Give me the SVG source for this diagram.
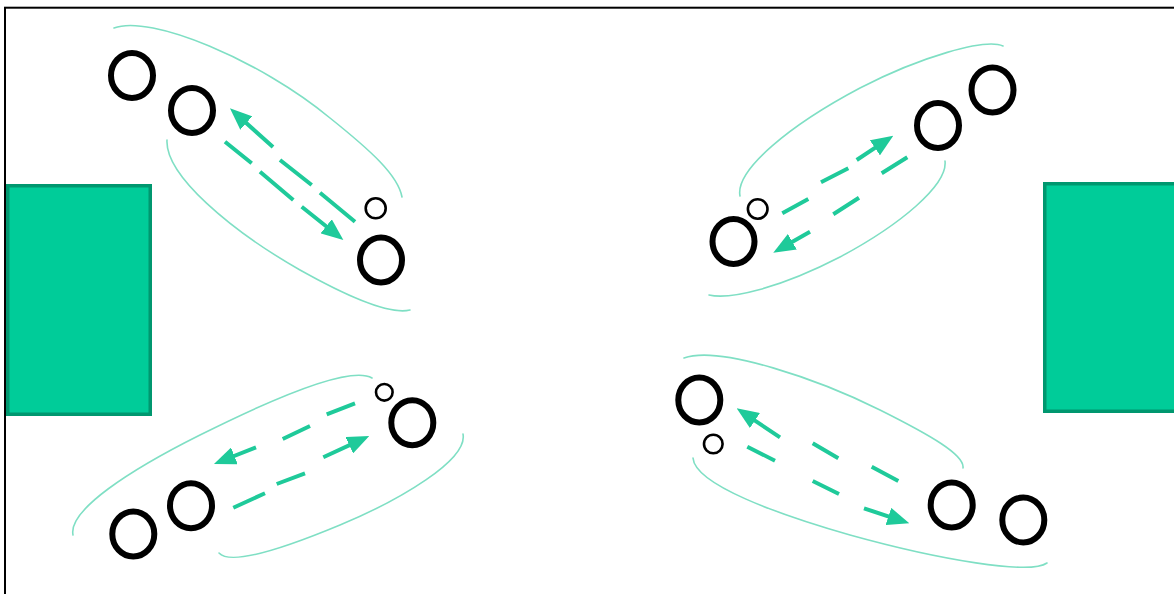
<svg xmlns="http://www.w3.org/2000/svg" width="1174" height="594" viewBox="0 0 1174 594">
  <style>
    .frame { fill: none; stroke: #000; stroke-width: 2; }
    .block { fill: #00CC99; stroke: #00976F; stroke-width: 3.5; }
    .ring { fill: none; stroke: #000; stroke-width: 6; }
    .dot { fill: none; stroke: #000; stroke-width: 2.6; }
    .zone { fill: none; stroke: #7FDFC4; stroke-width: 1.6; stroke-linecap: round; }
    .flow { fill: none; stroke: #1FCA9A; stroke-width: 4; marker-end: url(#head); }
  </style>
  <defs>
    <marker id="head" viewBox="0 0 22 18" refX="14" refY="9" markerWidth="22" markerHeight="18" markerUnits="userSpaceOnUse" orient="auto">
      <path d="M0,0 L22,9 L0,18 z" fill="#1FCA9A"/>
    </marker>
  </defs>

  <rect width="1174" height="594" fill="#fff"/>
  <rect class="frame" x="5" y="7.7" width="1200" height="620"/>

  <!-- side blocks -->
  <g id="block-left"><rect class="block" x="7.75" y="185.75" width="142.5" height="228.5"/></g>
  <g id="block-right"><rect class="block" x="1044.75" y="183.75" width="140" height="227.5"/></g>

  <!-- enclosing outlines -->
  <g id="zones">
    <path class="zone" d="M114,28 C150,14 260,60 330,118 C370,150 398,175 402,197"/>
    <path class="zone" d="M167,140 C165,175 230,230 300,270 C350,298 390,315 410,310"/>
    <path class="zone" d="M740,196 C735,170 790,125 860,88 C920,57 985,38 1003,46"/>
    <path class="zone" d="M945,161 C948,185 900,225 840,257 C780,288 730,300 709,295"/>
    <path class="zone" d="M73,535 C68,510 130,470 200,435 C270,400 350,365 372,378"/>
    <path class="zone" d="M463,434 C468,460 400,500 340,525 C280,550 230,565 219,553"/>
    <path class="zone" d="M684,358 C720,345 820,380 880,410 C930,435 965,455 963,468"/>
    <path class="zone" d="M693,458 C695,485 780,515 850,535 C940,560 1030,575 1047,563"/>
  </g>

  <!-- top-left cluster -->
  <g id="tl-a"><ellipse class="ring" cx="132" cy="75.5" rx="21" ry="22.5"/></g>
  <g id="tl-b"><ellipse class="ring" cx="192" cy="110.5" rx="21" ry="22.5"/></g>
  <g id="tl-s"><circle class="dot" cx="375.7" cy="208.3" r="10"/></g>
  <g id="tl-c"><ellipse class="ring" cx="381" cy="260" rx="21" ry="22.5"/></g>

  <!-- top-right cluster -->
  <g id="tr-a"><ellipse class="ring" cx="733.5" cy="241.5" rx="21" ry="22.5"/></g>
  <g id="tr-s"><circle class="dot" cx="757.7" cy="209" r="9.8"/></g>
  <g id="tr-b"><ellipse class="ring" cx="938" cy="125.5" rx="21" ry="22.5"/></g>
  <g id="tr-c"><ellipse class="ring" cx="992.5" cy="90" rx="21" ry="22.5"/></g>

  <!-- bottom-left cluster -->
  <g id="bl-s"><circle class="dot" cx="384.3" cy="392.3" r="8.3"/></g>
  <g id="bl-a"><ellipse class="ring" cx="412.3" cy="422.7" rx="21" ry="22.5"/></g>
  <g id="bl-b"><ellipse class="ring" cx="191" cy="505.7" rx="21" ry="22.5"/></g>
  <g id="bl-c"><ellipse class="ring" cx="133.3" cy="534" rx="21" ry="22.5"/></g>

  <!-- bottom-right cluster -->
  <g id="br-a"><ellipse class="ring" cx="699.3" cy="400" rx="21" ry="22.5"/></g>
  <g id="br-s"><circle class="dot" cx="713.3" cy="444" r="9.3"/></g>
  <g id="br-b"><ellipse class="ring" cx="951.7" cy="505" rx="21" ry="22.5"/></g>
  <g id="br-c"><ellipse class="ring" cx="1023.3" cy="520" rx="21" ry="22.5"/></g>

  <!-- dashed flows, drawn dash by dash; the last dash carries the arrowhead -->
  <g id="connectors">
    <path class="flow" d="M355,221.7 L320,192.7 M311.7,185 L280,160 M273,147 L235.9,113.7"/>
    <path class="flow" d="M225,141.7 L251.7,163.3 M260,171.7 L293.3,200 M301.7,206.7 L337.1,235"/>
    <path class="flow" d="M782.3,213.3 L808.3,199 M821,182.3 L848.3,168.3 M856.7,160 L886.6,140.1"/>
    <path class="flow" d="M907.3,157.3 L881.7,173.3 M859,197.7 L833.3,214.3 M810,231.7 L780.2,248.7"/>
    <path class="flow" d="M355,403.3 L326.7,414.3 M310,426 L282.7,439 M256,447.3 L221.4,461"/>
    <path class="flow" d="M233.3,507.7 L265,493.3 M276.7,484 L305,473.3 M323.3,457.3 L362,439.4"/>
    <path class="flow" d="M898.3,481 L871.7,466.7 M838.3,458.3 L812.7,443.3 M780,437.3 L743.3,412.8"/>
    <path class="flow" d="M747.3,446.7 L775,460.7 M812.7,481 L839,494 M864,508.3 L901.7,520.8"/>
  </g>
</svg>
